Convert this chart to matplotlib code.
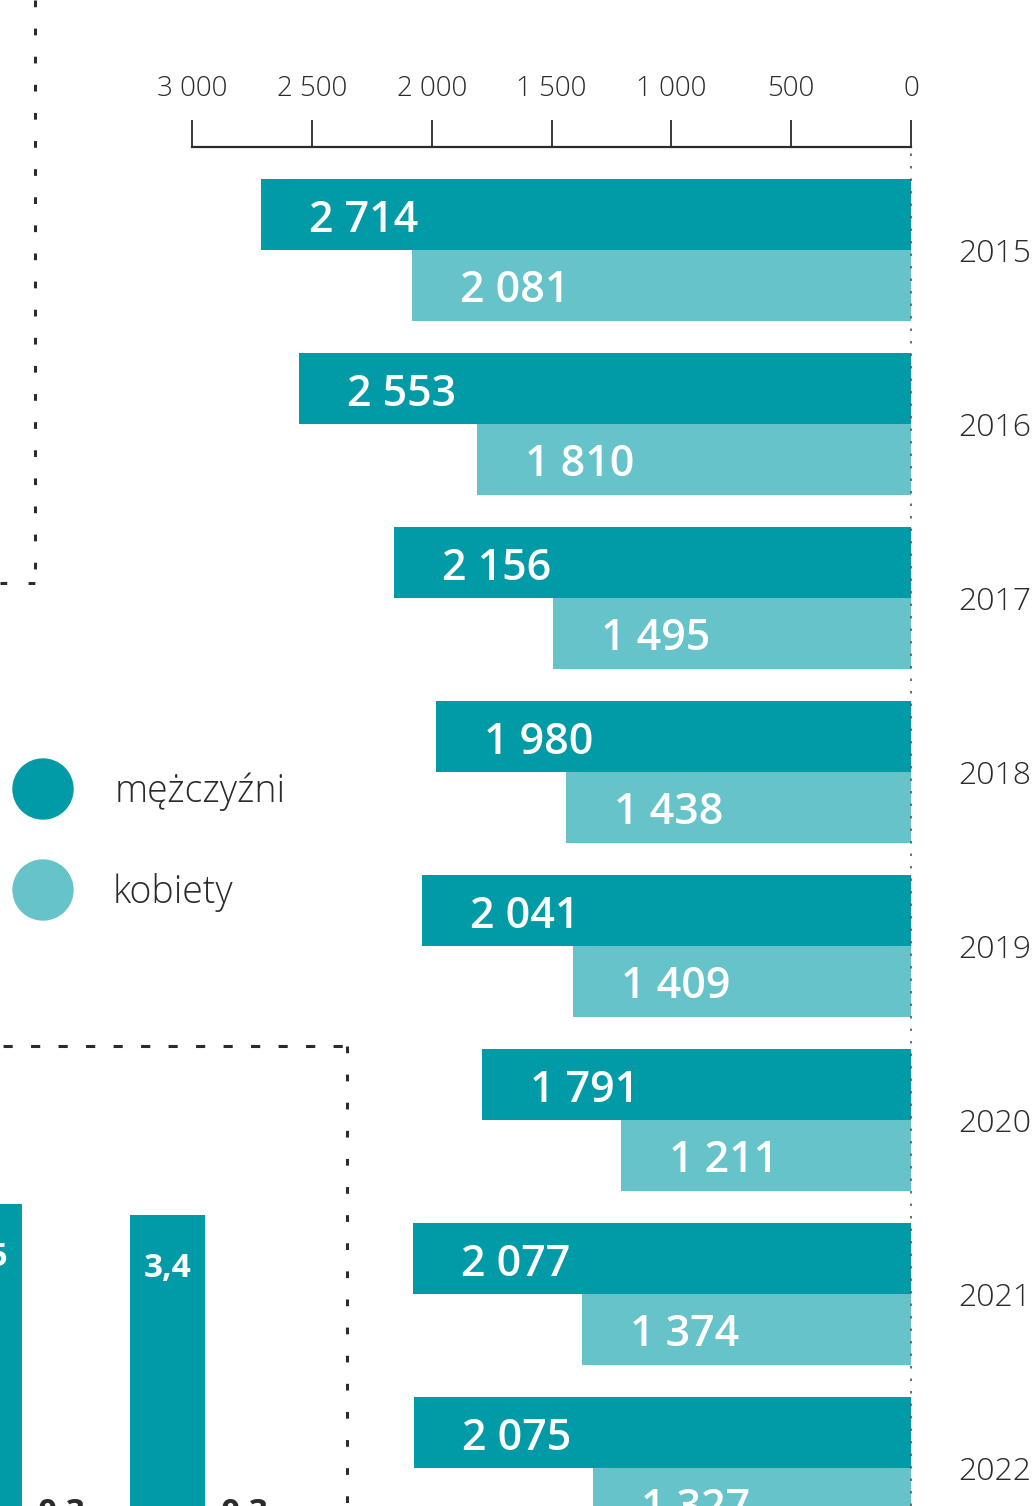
import matplotlib.pyplot as plt
from matplotlib.patches import Circle

# data
years = ['2015', '2016', '2017', '2018', '2019', '2020', '2021', '2022']
men = [2714, 2553, 2156, 1980, 2041, 1791, 2077, 2075]
women = [2081, 1810, 1495, 1438, 1409, 1211, 1374, 1327]
ticks = [3000, 2500, 2000, 1500, 1000, 500, 0]

# second (cut off) chart at the bottom left
small_vals = [3.5, 0.3, 3.4, 0.3]

dark = '#009BA6'
light = '#67C3CA'
ink = '#2b2b2b'
plt.rcParams['font.family'] = ['Open Sans', 'DejaVu Sans']


def fmt(v):
    return f'{v:,}'.replace(',', ' ')


W, H = 1035, 1506
fig = plt.figure(figsize=(W / 100, H / 100), dpi=100)

# main chart, y in pixel rows, x in data units
top = 147
ax = fig.add_axes([0, 0, 1, (H - top) / H])
px = 719 / 3000
ax.set_xlim(911 / px, -(W - 911) / px)
ax.set_ylim(H, top)

men_y = [215 + 174 * i for i in range(len(years))]
wom_y = [y + 70.5 for y in men_y]
ax.barh(men_y, men, height=71, color=dark, zorder=2)
ax.barh(wom_y, women, height=71, color=light, zorder=2)
ax.axvline(0, color='#555555', lw=1.2, ls=(0, (1.5, 6)), zorder=3)

off = 48 / px
for y, v in zip(men_y, men):
    ax.text(v - off, y + 17, fmt(v), color='white', fontsize=31,
            fontweight='semibold', ha='left', va='baseline')
for y, v in zip(wom_y, women):
    ax.text(v - off, y + 17, fmt(v), color='white', fontsize=31,
            fontweight='semibold', ha='left', va='baseline', clip_on=True)
for y, yr in zip(wom_y, years):
    ax.text(-47 / px, y - 23, yr, color=ink, fontsize=23, fontweight='light',
            ha='left', va='baseline')

for s in ['left', 'right', 'bottom']:
    ax.spines[s].set_visible(False)
ax.spines['top'].set_bounds(0, 3000)
ax.spines['top'].set_color(ink)
ax.spines['top'].set_linewidth(1.6)
ax.xaxis.tick_top()
ax.set_xticks(ticks)
ax.set_xticklabels([fmt(t) for t in ticks])
ax.tick_params(axis='x', length=19.5, width=1.3, color=ink, pad=12.5,
               labelsize=20, labelcolor=ink)
for lab in ax.get_xticklabels():
    lab.set_fontweight('light')
ax.set_yticks([])
ax.patch.set_alpha(0)

# small bar chart cut off at bottom left
sax = fig.add_axes([0, 0, 347 / W, (H - 1046) / H])
k = 101.6
base = 1560
sax.set_ylim((base - H) / k, (base - 1046) / k)
sax.set_xlim(0, 347)
sx = [-15.5 + 183 * (i // 2) + 75.5 * (i % 2) for i in range(len(small_vals))]
sax.bar(sx, small_vals, width=75, color=dark)
for x, v in zip(sx, small_vals):
    lab = f'{v}'.replace('.', ',')
    if v > 1:
        sax.text(x, v - 62 / k, lab, color='white', fontsize=24,
                 fontweight='bold', ha='center', va='baseline')
    else:
        sax.text(x + 2, v + 8 / k, lab, color=ink, fontsize=24,
                 fontweight='bold', ha='center', va='baseline', clip_on=False)
sax.axis('off')

# decorations in pixel coordinates
deco = fig.add_axes([0, 0, 1, 1])
deco.set_xlim(0, W)
deco.set_ylim(H, 0)
deco.axis('off')
dash = (0, (2.2, 7))
deco.plot([35, 35], [0, 583], color=ink, lw=2.2, ls=dash)
deco.plot([0, 35], [583, 583], color=ink, lw=2.2, ls=dash)
deco.plot([0, 347], [1046, 1046], color=ink, lw=2.2, ls=(8, (3, 6)))
deco.plot([347, 347], [1046, H], color=ink, lw=2.2, ls=dash)

deco.add_patch(Circle((43, 789), 30, color=dark))
deco.add_patch(Circle((43, 890), 30, color=light))
deco.text(115, 802, 'mężczyźni', color=ink, fontsize=27, fontweight='light',
          ha='left', va='baseline')
deco.text(113, 903, 'kobiety', color=ink, fontsize=27, fontweight='light',
          ha='left', va='baseline')

fig.savefig('out.png', dpi=100)
